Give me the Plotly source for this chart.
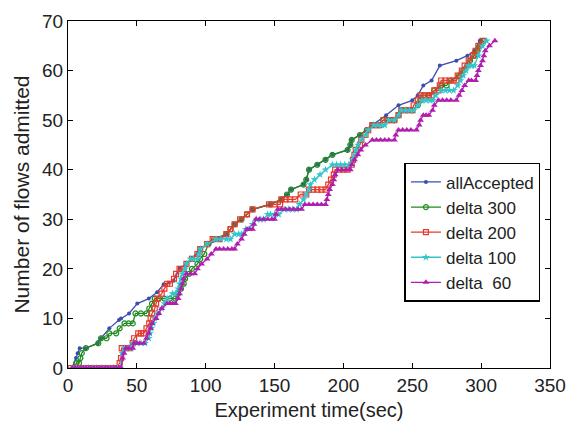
import plotly.graph_objects as go

# Series data: (time in sec, number of flows admitted)
all_accepted = [(3,0),(5.8,2),(7,3),(8.5,4),(13,4),(21.6,5),(24,6),(30,8),(37,9.7),(38.5,10),(44.3,11),(50.3,13),(58.7,14),(64.7,15.3),(69.5,16.9),(76.7,17.6),(81,20),(86,21),(90,22),(95.6,24),(102,25),(110,26),(115,27),(121,29),(126,30),(134,32),(147,33),(155,34),(159,35),(162,36),(171,37),(173,38),(175,40),(181,41),(187,42),(192,43),(203,44),(205,45),(206,46),(212,47),(221,49),(231,51),(240,53),(250,54),(254,55),(258,57),(264,58),(270,61),(282,62),(290,63),(295,64),(299,66),(300,66)]

delta_300 = [(4.5,0),(6,1),(8,1),(9,2),(10,3),(13,4),(22,5),(24,6),(28,6),(30,7),(35,7),(37.5,8),(41,9),(44,9),(47,9),(49,11),(53,11),(57,11),(59,12),(61,13),(63,14),(66,14),(70,14),(74,14),(78,14),(80,15),(82,16),(84,17),(85,18),(88,19),(90,20),(94,21),(96,22),(99,23),(102,25),(106,26),(115,27),(118,28),(121,29),(126,30),(130,31),(134,32),(147,33),(155,34),(159,35),(162,36),(171,37),(173,38),(175,40),(181,41),(187,42),(192,43),(203,44),(205,45),(206,46),(212,47),(217,48),(221,49),(226,49),(229,50),(233,50),(237,50),(240,51),(242,52),(246,52),(250,52),(254,53),(256,54),(258,55),(262,55),(266,56),(271,57),(275,57),(278,58),(284,59),(287,60),(290,61),(292,62),(295,63),(297,64),(299,65),(302,66)]

delta_200 = [(2,0),(5,0),(8,0),(11,0),(14,0),(17,0),(20,0),(23,0),(26,0),(29,0),(32,0),(35,0),(37.5,1),(38.5,2),(39,4),(42,4),(45,4),(47,5),(48,6),(51,7),(53,7),(55,7),(57,8),(59,9),(60,10),(61,11),(63,12),(64,13),(65,14),(68,15),(70,16),(72,17),(74,17),(77,18),(78.5,19),(81,20),(84,20),(86,21),(90,22),(94,23),(96,24),(101,25),(105,26),(110,26),(115,27),(118,28),(121,29),(125,30),(130,31),(134,32),(146,33),(150,33),(154,33),(155,34),(158,34),(161,34),(165,34),(169,35),(173,35),(175,36),(178,36),(181,36),(184,36),(187,36),(189,37),(191,38),(193,39),(194,40),(197,40),(200,40),(203,40),(206,41),(207,42),(208,43),(209,44),(212,45),(213,46),(216,47),(218,48),(221,49),(224,49),(226,49),(229,50),(232,50),(235,50),(237,50),(240,51),(242,52),(245,52),(248,52),(250,52),(251,53),(254,54),(256,55),(259,55),(262,55),(264,55),(266,56),(269,56),(270,57),(271,58),(274,58),(277,58),(280,58),(282,58),(283,59),(286,60),(288,61),(291,62),(294,63),(296,64),(298,65),(301,66)]

delta_100 = [(3,0),(6,0),(9,0),(12,0),(15,0),(18,0),(21,0),(24,0),(27,0),(30,0),(33,0),(36,0),(38,0),(39.4,3),(41,4),(44,4),(46,4),(47,5),(50,5),(53,5),(56,5),(58.6,6),(59.5,7),(60.5,8),(62,9),(63,10),(65,11),(68,12),(70,13),(72,14),(76,15),(78,15),(80,16),(81,17),(82,18),(83,19),(85,20),(86,21),(89,22),(91,22),(94,22),(95,23),(96,24),(101,25),(107.5,26),(111,26),(115,26),(118,26),(121,27),(124,27),(126,27),(129,28),(134,29),(137,30),(140,30),(142,30),(145,31),(147,31),(150,31),(153,31),(157,32),(160,32),(163,32),(166,32),(168,33),(171,34),(173,35),(175,36),(176,37),(179,38),(183,39),(187,40),(192,41),(195,41),(198,41),(201,41),(204,41),(206.5,42),(208,43),(209,44),(210.5,45),(213,46),(216,47),(218,48),(222,49),(225,49),(228,49),(230,49),(233,50),(237,50),(240,51),(242,52),(245,52),(248,52),(251,52),(254,53),(257,54),(260,54),(263,54),(265,54),(267,55),(271,56),(274,56),(277,56),(280,56),(283,57),(285,58),(287,59),(289,60),(291,61),(293,61),(295,61),(298,63),(301,65),(304,66)]

delta_60 = [(3,0),(5,0),(7,0),(9,0),(11,0),(13,0),(15,0),(17,0),(19,0),(21,0),(23,0),(25,0),(27,0),(29,0),(31,0),(33,0),(35,0),(37,0),(38.5,0),(39.6,2),(40.7,3),(42,4),(44,4),(47,4),(48,5),(50,5),(52,5),(55,5),(57,6),(58.5,7),(60,8),(61,9),(64,10),(66,11),(68,12),(72,13),(74,13),(76,13),(78,13),(80,14),(81,15),(82,16),(83,17),(84,18),(86,19),(89,19),(92,19),(94,20),(97,21),(101,22),(104,23),(107.5,24),(110,24),(113,24),(116,24),(119,24),(121,24),(123,25),(126,26),(128,27),(130,28),(132,28),(134,28),(135,29),(136.5,30),(139,30),(142,30),(145,30),(148,30),(150,30),(151,31),(152.4,32),(155,32),(158,32),(161,32),(164,32),(167,32),(169.6,32),(172,33),(175,33),(178,33),(181,33),(184,33),(187,33),(188,34),(189,35),(190,36),(192,37),(193,38),(194,39),(196,40),(199,40),(202,40),(205,40),(206,41),(208,42),(210.5,43),(212.6,44),(216,45),(221,46),(224,46),(227,46),(230,46),(233,46),(237,46),(238,47),(240,48),(243,48),(246,48),(249,48),(253,48),(255,49),(256,50),(258,51),(260,51),(262,51),(264.7,52),(266,53),(269,54),(272,54),(275,54),(278,54),(282,54),(284,55),(286,56),(288,57),(291,58),(293,58),(296,58),(297,59),(298,60),(299.6,61),(301,62),(302,63),(303,64),(306,65),(310,66)]

series_names = ["allAccepted", "delta 300", "delta 200", "delta 100", "delta  60"]
series_data = [all_accepted, delta_300, delta_200, delta_100, delta_60]

x_ticks = [0, 50, 100, 150, 200, 250, 300, 350]
y_ticks = [0, 10, 20, 30, 40, 50, 60, 70]

colors = ["#3b4db3", "#1f8a1f", "#e53b2b", "#33c4cc", "#b01eb0"]
markers = [
    dict(symbol="circle", size=4),
    dict(symbol="circle-open", size=5, line=dict(width=1.2)),
    dict(symbol="square-open", size=5, line=dict(width=1.2)),
    dict(symbol="star", size=6),
    dict(symbol="triangle-up", size=6),
]

fig = go.Figure()
for name, data, c, m in zip(series_names, series_data, colors, markers):
    xs = [p[0] for p in data]
    ys = [p[1] for p in data]
    mk = dict(m)
    mk["color"] = c
    if "line" in mk:
        mk["line"] = dict(mk["line"], color=c)
    fig.add_trace(go.Scatter(x=xs, y=ys, mode="lines+markers", name=name,
                             line=dict(color=c, width=1.3), marker=mk))

font_family = "Liberation Sans, Arial, sans-serif"
axis_common = dict(
    showgrid=False, zeroline=False, showline=True, linecolor="black", linewidth=1,
    mirror="ticks", ticks="inside", ticklen=5, tickcolor="black",
    tickfont=dict(family=font_family, size=19, color="#222"),
)

fig.update_layout(
    width=577, height=435,
    margin=dict(l=68, r=22, t=11, b=67),
    paper_bgcolor="white", plot_bgcolor="white",
    font=dict(family=font_family, color="#222"),
    xaxis=dict(range=[0, 350], tickvals=x_ticks, **axis_common,
               title=dict(text="Experiment time(sec)", font=dict(size=20, family=font_family, color="#222"), standoff=8)),
    yaxis=dict(range=[0, 70], tickvals=y_ticks, **axis_common,
               title=dict(text="Number of flows admitted", font=dict(size=21, family=font_family, color="#222"), standoff=6)),
    legend=dict(x=0.698, y=0.591, xanchor="left", yanchor="top",
                bordercolor="black", borderwidth=1.5, bgcolor="white",
                font=dict(family=font_family, size=17, color="#222"),
                itemwidth=30, tracegroupgap=0),
    showlegend=True,
)

fig.write_html("out.html")
